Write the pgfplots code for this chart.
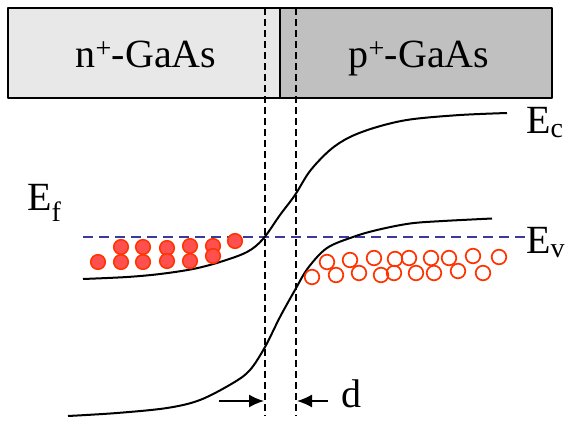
\documentclass[border=0pt]{standalone}
\usepackage{pgfplots}
\pgfplotsset{compat=1.18}
\usepackage{fontspec}
\setmainfont{Liberation Serif}
\usetikzlibrary{arrows.meta}
\definecolor{lightbox}{HTML}{E8E8E8}
\definecolor{darkbox}{HTML}{C0C0C0}
\definecolor{efblue}{HTML}{3A3A9A}
\definecolor{elfill}{HTML}{FF5050}
\definecolor{eldraw}{HTML}{FF3300}
\begin{document}
\begin{tikzpicture}
\useasboundingbox (0,0) rectangle (566pt,421pt);
\begin{axis}[
  at={(0,0)}, anchor=south west,
  scale only axis, width=566pt, height=421pt,
  xmin=0, xmax=566, ymin=0, ymax=421, y dir=reverse,
  axis lines=none, clip=false,
  every axis plot/.append style={line join=round},
]
% top boxes
\addplot[fill=lightbox, draw=none] coordinates {(8,8) (280,8) (280,98) (8,98)} -- cycle;
\addplot[fill=darkbox, draw=none] coordinates {(280,8) (552,8) (552,98) (280,98)} -- cycle;
\addplot[draw=black, line width=2pt] coordinates {(8,8) (552,8) (552,98) (8,98)} -- cycle;
\addplot[draw=black, line width=1.5pt] coordinates {(280,8) (280,98)};
% dashed vertical lines
\addplot[draw=black, line width=1.8pt, dash pattern=on 7pt off 4pt] coordinates {(265,8) (265,416)};
\addplot[draw=black, line width=1.8pt, dash pattern=on 7pt off 4pt] coordinates {(296,8) (296,416)};
% Fermi level
\addplot[draw=efblue, line width=2.4pt, dash pattern=on 10pt off 6pt] coordinates {(83,237) (532,237)};
% Ec
\addplot[black, line width=2pt, smooth, tension=0.55] coordinates {
(83,279) (127,277) (160,274) (193,269) (220,262) (247,252) (263,239)
(280,215) (295,195) (310,171) (330,150) (350,137) (377,127) (410,119.5) (460,115) (507,113)};
% Ev
\addplot[black, line width=2pt, smooth, tension=0.55] coordinates {
(68,416) (117,413) (167,408) (200,400) (233,383) (250,370) (265,347) (280,317)
(295,290) (308,268) (327,248) (353,237) (377,230) (410,223.5) (443,221) (492,218.5)};
% electrons
\addplot[only marks, mark=*, mark size=7.3pt, mark options={fill=elfill, draw=eldraw, line width=1.5pt}] coordinates {
(98,262) (121,247) (121,262) (143,247) (143,262) (167,248) (167,261)
(190,246) (190,261) (213,246) (213,256) (235,241)};
% holes
\addplot[only marks, mark=o, mark size=7.3pt, mark options={draw=eldraw, line width=1.7pt}] coordinates {
(312,277) (327,262) (336,275) (350,260) (359,273) (374,258) (381,275) (395,259)
(394,273) (409,258) (416,273) (431,258) (434,273) (449,258) (458,271) (473,256)
(483,273) (499,257)};
% arrows
\addplot[black, line width=1.7pt, -{Latex[length=15pt,width=13pt]}] coordinates {(219,401) (264,401)};
\addplot[black, line width=1.7pt, -{Latex[length=15pt,width=13pt]}] coordinates {(328,401) (297,401)};
% labels
\node[anchor=base, font=\fontsize{40}{48}\selectfont] at (axis cs:146,67) {n\textsuperscript{+}-GaAs};
\node[anchor=base, font=\fontsize{40}{48}\selectfont] at (axis cs:419,67) {p\textsuperscript{+}-GaAs};
\node[anchor=base west, inner sep=0pt, font=\fontsize{40}{48}\selectfont] at (axis cs:27,210) {E\textsubscript{f}};
\node[anchor=base west, inner sep=0pt, font=\fontsize{40}{48}\selectfont] at (axis cs:526,133) {E\textsubscript{c}};
\node[anchor=base west, inner sep=0pt, font=\fontsize{40}{48}\selectfont] at (axis cs:526,253) {E\textsubscript{v}};
\node[anchor=base west, inner sep=0pt, font=\fontsize{40}{48}\selectfont] at (axis cs:341,407) {d};
\end{axis}
\end{tikzpicture}
\end{document}
